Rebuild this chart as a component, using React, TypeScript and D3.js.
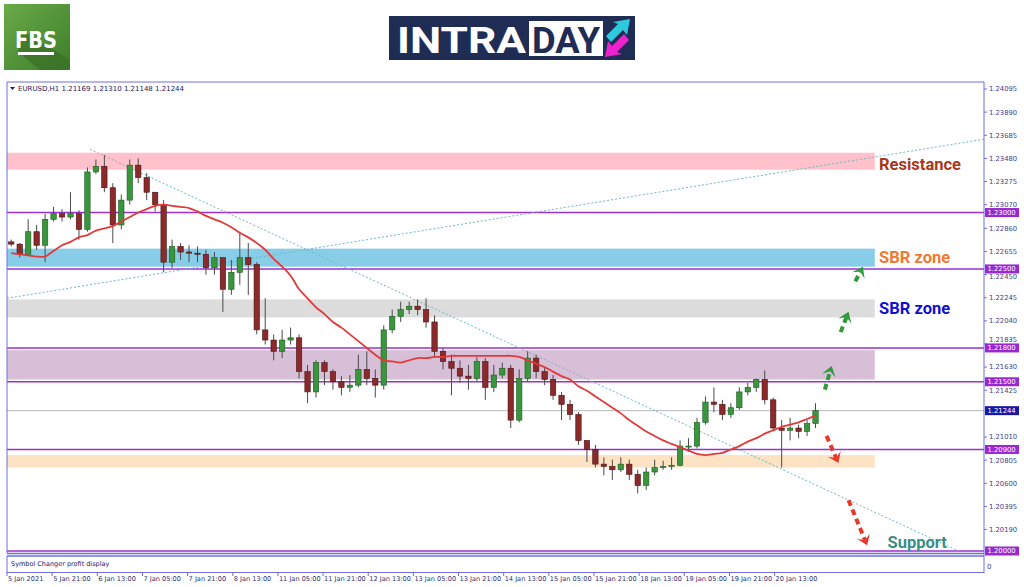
import React from "react";
import * as d3 from "d3";

// ---- DATA (EURUSD H1, sampled every 3 hours) ----
const firstOpen = 1.2274;
const closes = [
  1.2272, 1.2263, 1.2283, 1.2271, 1.2294, 1.2299, 1.2296, 1.2299, 1.2285, 1.2336,
  1.2341, 1.2322, 1.2289, 1.2311, 1.2342, 1.2331, 1.2318, 1.2307, 1.2256, 1.227,
  1.2265, 1.2264, 1.2263, 1.2251, 1.226, 1.2232, 1.2247, 1.226, 1.2254, 1.2196,
  1.2187, 1.2177, 1.2187, 1.2189, 1.2159, 1.2141, 1.2167, 1.2159, 1.215, 1.2145,
  1.2147, 1.2161, 1.2153, 1.2147, 1.2196, 1.2208, 1.2214, 1.2217, 1.2214, 1.2203,
  1.2177, 1.2168, 1.2162, 1.2155, 1.2153, 1.2168, 1.2145, 1.2156, 1.2162, 1.2116,
  1.2153, 1.2171, 1.2159, 1.2152, 1.2138, 1.213, 1.2121, 1.2098, 1.209, 1.2077,
  1.2075, 1.2072, 1.2077, 1.2068, 1.2058, 1.207, 1.2074, 1.2075, 1.2076, 1.2093,
  1.2093, 1.2114, 1.2132, 1.213, 1.2121, 1.2127, 1.2141, 1.2145, 1.2152, 1.2134,
  1.2109, 1.2107, 1.2109, 1.2106, 1.2113, 1.21244,
];
const highs = [
  1.2276, 1.2273, 1.2294, 1.2289, 1.2299, 1.2305, 1.2303, 1.2318, 1.2302, 1.234,
  1.2347, 1.2351, 1.2326, 1.2316, 1.2347, 1.2348, 1.2335, 1.2318, 1.2311, 1.2276,
  1.2273, 1.2271, 1.227, 1.2267, 1.2265, 1.226, 1.2258, 1.2283, 1.2273, 1.2256,
  1.2224, 1.2192, 1.2196, 1.2198, 1.2192, 1.2165, 1.2169, 1.2169, 1.2161, 1.2155,
  1.2156, 1.2174, 1.2177, 1.2161, 1.22, 1.2214, 1.2221, 1.2221, 1.2223, 1.2224,
  1.2209, 1.218, 1.2174, 1.2169, 1.2165, 1.2172, 1.2171, 1.2165, 1.2167, 1.2165,
  1.2161, 1.2177, 1.2174, 1.2162, 1.2156, 1.2141, 1.2134, 1.2123, 1.2098, 1.2094,
  1.2083, 1.2081, 1.2083, 1.2081, 1.2072, 1.2074, 1.2081, 1.208, 1.2083, 1.2098,
  1.21, 1.2118, 1.2137, 1.2145, 1.2134, 1.2131, 1.2145, 1.2149, 1.2153, 1.216,
  1.2136, 1.2116, 1.2118, 1.2112, 1.2116, 1.2131,
];
const lows = [
  1.227, 1.226, 1.2262, 1.2267, 1.2256, 1.2292, 1.2292, 1.2294, 1.2276, 1.2283,
  1.2334, 1.2318, 1.2273, 1.2285, 1.2307, 1.2326, 1.2311, 1.2301, 1.2247, 1.2251,
  1.2258, 1.2256, 1.2256, 1.2245, 1.2245, 1.2212, 1.2227, 1.2236, 1.2227, 1.2192,
  1.2183, 1.2169, 1.2171, 1.2183, 1.2153, 1.2131, 1.2136, 1.2147, 1.2143, 1.2138,
  1.2141, 1.2145, 1.2147, 1.2136, 1.2143, 1.2193, 1.2203, 1.221, 1.2209, 1.2198,
  1.2172, 1.2161, 1.2138, 1.2149, 1.2143, 1.215, 1.2134, 1.2141, 1.2153, 1.2109,
  1.2114, 1.215, 1.2153, 1.2147, 1.2134, 1.2116, 1.2116, 1.2094, 1.2079, 1.2074,
  1.2067, 1.2063, 1.207, 1.2063, 1.2051, 1.2054, 1.2067, 1.2072, 1.2072, 1.2075,
  1.2088, 1.2091, 1.2112, 1.2123, 1.2116, 1.2118, 1.2125, 1.2138, 1.2141, 1.213,
  1.2106, 1.2074, 1.2098, 1.21, 1.2102, 1.2109,
];
const maValues = [
  1.2264, 1.2263, 1.2262, 1.2261, 1.2261, 1.2266, 1.2271, 1.2274, 1.2278, 1.228,
  1.2284, 1.2286, 1.2288, 1.2292, 1.2296, 1.23, 1.2303, 1.2306, 1.2307, 1.2306,
  1.2305, 1.2304, 1.2301, 1.2297, 1.2294, 1.2291, 1.2287, 1.2282, 1.2278, 1.2273,
  1.2267, 1.2259, 1.2252, 1.2244, 1.2232, 1.2224, 1.2216, 1.221, 1.2203, 1.2198,
  1.2192, 1.2186, 1.218, 1.2174, 1.2169, 1.2168, 1.2167, 1.2169, 1.2171, 1.2171,
  1.2172, 1.2172, 1.2173, 1.2173, 1.2173, 1.2173, 1.2173, 1.2173, 1.2173, 1.2173,
  1.2172, 1.2169, 1.2166, 1.2163, 1.2159, 1.2155, 1.2152, 1.2146, 1.2142, 1.2137,
  1.2132, 1.2127, 1.2122, 1.2116, 1.2111, 1.2106, 1.2102, 1.2098, 1.2095, 1.2092,
  1.2089, 1.2086, 1.2085, 1.2086, 1.2087, 1.209, 1.2093, 1.2097, 1.21, 1.2104,
  1.2107, 1.211, 1.2112, 1.2114, 1.2117, 1.212,
];

const xLabels = [
  "5 Jan 2021", "5 Jan 21:00", "6 Jan 13:00", "7 Jan 05:00", "7 Jan 21:00", "8 Jan 13:00",
  "11 Jan 05:00", "11 Jan 21:00", "12 Jan 13:00", "13 Jan 05:00", "13 Jan 21:00", "14 Jan 13:00",
  "15 Jan 05:00", "15 Jan 21:00", "18 Jan 13:00", "19 Jan 05:00", "19 Jan 21:00", "20 Jan 13:00",
];
const hoursPerLabel = 16;
const hoursPerCandle = 3;

const yTickLabels = [
  "1.24095", "1.23890", "1.23685", "1.23480", "1.23275", "1.23070", "1.22860", "1.22655",
  "1.22450", "1.22245", "1.22040", "1.21835", "1.21630", "1.21425", "1.21010",
  "1.20805", "1.20600", "1.20395", "1.20190",
];

const levelPrices = [1.23, 1.225, 1.218, 1.215, 1.209, 1.2];
const levelLabels = ["1.23000", "1.22500", "1.21800", "1.21500", "1.20900", "1.20000"];
const currentPrice = 1.21244;
const currentLabel = "1.21244";

const zoneNames = ["resistance", "sbr1", "sbr2", "range", "support"];
const zoneHigh = [1.2353, 1.2268, 1.2223, 1.2178, 1.2085];
const zoneLow = [1.2338, 1.2252, 1.2207, 1.2152, 1.2074];
const zoneEndIndex = 102;

const trendFrom = [
  [9.3, 1.2356],
  [-0.5, 1.2224],
];
const trendTo = [
  [111.9, 1.2],
  [114.9, 1.2365],
];

const arrowKinds = ["up", "up", "up", "down", "down"];
const arrowFrom = [
  [96.1, 1.2143],
  [97.97, 1.2194],
  [99.7, 1.2239],
  [96.3, 1.2102],
  [98.9, 1.2045],
];
const arrowTo = [
  [96.9, 1.2164],
  [98.9, 1.2212],
  [100.6, 1.2252],
  [97.7, 1.2078],
  [101.1, 1.2005],
];

const noteTexts = ["Resistance", "SBR zone", "SBR zone", "Support"];
const noteIndex = [102.5, 102.5, 102.5, 103.5];
const notePrice = [1.2343, 1.226, 1.2215, 1.2008];

const headerText = "EURUSD,H1  1.21169 1.21310 1.21148 1.21244";

// ---- STYLE ----
const zoneColors: Record<string, string> = {
  resistance: "#ffc2cc",
  sbr1: "#87cde8",
  sbr2: "#dcdcdc",
  range: "#d8bfd8",
  support: "#fde2c4",
};
const noteColors = ["#a8381c", "#f07a30", "#1010d0", "#3a8c86"];
const frameColor = "#6e6ee0";
const levelColor = "#9a30d0";

export default function App() {
  const W = 1024;
  const H = 587;
  const left = 7;
  const right = 984;
  const top = 82;
  const bottom = 553;

  const x = d3.scaleLinear().domain([-0.5, 114.9]).range([left, right]);
  const y = d3.scaleLinear().domain([1.2, 1.24095]).range([551, 89]);

  const candles = closes.map((c, i) => {
    const o = i === 0 ? firstOpen : closes[i - 1];
    const h = Math.max(highs[i], o, c);
    const l = Math.min(lows[i], o, c);
    return { i, o, c, h, l };
  });

  const maLine = d3
    .line<number>()
    .x((_, i) => x(i))
    .y((d) => y(d))
    .curve(d3.curveCatmullRom.alpha(0.5));

  const bodyW = 5.4;

  const tickY = (s: string) => {
    const v = y(parseFloat(s));
    // nudge labels that sit under a highlighted level box
    for (const p of levelPrices) {
      const d = v - y(p);
      if (Math.abs(d) < 7) return y(p) + (d >= 0 ? 8 : -8);
    }
    return v;
  };

  const arrows = arrowKinds.map((k, j) => {
    const x1 = x(arrowFrom[j][0]);
    const y1 = y(arrowFrom[j][1]);
    const x2 = x(arrowTo[j][0]);
    const y2 = y(arrowTo[j][1]);
    const ang = Math.atan2(y2 - y1, x2 - x1);
    const headLen = 10;
    const headW = 7;
    const bx = x2 - headLen * Math.cos(ang);
    const by = y2 - headLen * Math.sin(ang);
    const nx = -Math.sin(ang);
    const ny = Math.cos(ang);
    const notchX = x2 - headLen * 0.55 * Math.cos(ang);
    const notchY = y2 - headLen * 0.55 * Math.sin(ang);
    const head = [
      [x2, y2],
      [bx + nx * headW, by + ny * headW],
      [notchX, notchY],
      [bx - nx * headW, by - ny * headW],
    ];
    const color = k === "up" ? "#2f9a3a" : "#e53a2a";
    return { x1, y1, sx: notchX, sy: notchY, head, color };
  });

  return (
    <svg
      width={W}
      height={H}
      style={{ position: "absolute", left: 0, top: 0, background: "#fff" }}
      fontFamily="'DejaVu Sans', Verdana, sans-serif"
    >
      <rect x={0} y={0} width={W} height={H} fill="#fff" />

      <defs>
        <linearGradient id="fbsg" x1="0" y1="0" x2="1" y2="1">
          <stop offset="0" stopColor="#6aaa48" />
          <stop offset="1" stopColor="#3d7d2a" />
        </linearGradient>
        <clipPath id="plotclip">
          <rect x={left} y={top} width={right - left} height={bottom - top} />
        </clipPath>
      </defs>

      {/* FBS logo */}
      <rect x={4} y={4} width={66} height={66} fill="url(#fbsg)" />
      <polygon points="22,30 70,60 70,70 40,70 18,52" fill="#3a6f26" opacity={0.7} />
      <text
        x={15}
        y={48}
        fill="#fff"
        fontFamily="'Liberation Sans Narrow', 'DejaVu Sans Condensed', Roboto, sans-serif"
        fontWeight={700}
        fontSize={23}
        textLength={42}
        lengthAdjust="spacingAndGlyphs"
      >
        FBS
      </text>
      <rect x={18} y={52} width={36} height={3} fill="#fff" />

      {/* INTRADAY logo */}
      <rect x={389} y={16} width={246} height={44} fill="#1f2d55" />
      <text
        x={397}
        y={53}
        fill="#fff"
        fontFamily="'Liberation Sans Narrow', Roboto, sans-serif"
        fontWeight={700}
        fontSize={37}
        textLength={129}
        lengthAdjust="spacingAndGlyphs"
      >
        INTRA
      </text>
      <rect x={529} y={21} width={74} height={35} fill="#fff" />
      <text
        x={532}
        y={53}
        fill="#1f2d55"
        fontFamily="'Liberation Sans Narrow', Roboto, sans-serif"
        fontWeight={700}
        fontSize={37}
        textLength={68}
        lengthAdjust="spacingAndGlyphs"
      >
        DAY
      </text>
      <polygon points="606,36 618,24 613,22 630,19 627,35 623,30 611,42" fill="#2ec9dc" />
      <polygon points="629,40 617,52 622,54 605,57 608,41 612,46 624,34" fill="#ee22cc" />

      {/* plot */}
      <g clipPath="url(#plotclip)">
        {zoneNames.map((z, j) => (
          <rect
            key={z}
            x={left}
            y={y(zoneHigh[j])}
            width={x(zoneEndIndex) - left}
            height={y(zoneLow[j]) - y(zoneHigh[j])}
            fill={zoneColors[z]}
          />
        ))}
        <line x1={left} x2={right} y1={y(currentPrice)} y2={y(currentPrice)} stroke="#b8b8b8" strokeWidth={1} />
        {levelPrices.map((p) => (
          <line key={p} x1={left} x2={right} y1={y(p)} y2={y(p)} stroke={levelColor} strokeWidth={1.5} />
        ))}
        {trendFrom.map((f, j) => (
          <line
            key={j}
            x1={x(f[0])}
            y1={y(f[1])}
            x2={x(trendTo[j][0])}
            y2={y(trendTo[j][1])}
            stroke="#6fb7c2"
            strokeWidth={1}
            strokeDasharray="2,2"
          />
        ))}
        {candles.map((d) => {
          const bull = d.c >= d.o;
          const yt = y(Math.max(d.o, d.c));
          const yb = y(Math.min(d.o, d.c));
          return (
            <g key={d.i}>
              <line x1={x(d.i)} x2={x(d.i)} y1={y(d.h)} y2={y(d.l)} stroke="#4a4a4a" strokeWidth={1} />
              <rect
                x={x(d.i) - bodyW / 2}
                y={yt}
                width={bodyW}
                height={Math.max(1, yb - yt)}
                fill={bull ? "#3a963c" : "#8a2a2a"}
                stroke={bull ? "#1f5a22" : "#4d1414"}
                strokeWidth={0.6}
              />
            </g>
          );
        })}
        <path d={maLine(maValues) || ""} fill="none" stroke="#e23a3a" strokeWidth={1.8} />

        {arrows.map((a, j) => (
          <g key={j}>
            <line
              x1={a.x1}
              y1={a.y1}
              x2={a.sx}
              y2={a.sy}
              stroke={a.color}
              strokeWidth={4}
              strokeDasharray="6,4"
            />
            <polygon points={a.head.map((p) => p.join(",")).join(" ")} fill={a.color} />
          </g>
        ))}

        {noteTexts.map((t, j) => (
          <text
            key={j}
            x={x(noteIndex[j])}
            y={y(notePrice[j])}
            dy="0.35em"
            fill={noteColors[j]}
            fontFamily="Roboto, 'Open Sans', sans-serif"
            fontWeight={700}
            fontSize={16.5}
          >
            {t}
          </text>
        ))}
      </g>

      {/* header */}
      <polygon points="10,87 15,87 12.5,90" fill="#202060" />
      <text x={18} y={91} fontSize={7} fill="#202060">
        {headerText}
      </text>

      {/* frame */}
      <line x1={left} x2={left} y1={top} y2={bottom} stroke={frameColor} />
      <line x1={left} x2={right} y1={top} y2={top} stroke={frameColor} />
      <line x1={right} x2={right} y1={top} y2={573} stroke={frameColor} />
      <line x1={left} x2={right} y1={bottom + 0.5} y2={bottom + 0.5} stroke={frameColor} strokeWidth={1.5} />
      <line x1={left} x2={right} y1={556} y2={556} stroke={frameColor} strokeWidth={1.5} />
      <line x1={left} x2={left} y1={556} y2={573} stroke={frameColor} />
      <line x1={left} x2={right} y1={572.5} y2={572.5} stroke={frameColor} />
      <text x={11} y={566} fontSize={6.5} fill="#202070">
        Symbol Changer profit display
      </text>
      <text x={987} y={569} fontSize={7} fill="#404080">
        0
      </text>

      {/* right axis */}
      {yTickLabels.map((s) => (
        <g key={s}>
          <line x1={right} x2={right + 3} y1={y(parseFloat(s))} y2={y(parseFloat(s))} stroke={frameColor} />
          <text x={989} y={tickY(s)} dy="0.35em" fontSize={6.8} fill="#44448a">
            {s}
          </text>
        </g>
      ))}
      {levelPrices.map((p, j) => (
        <g key={p}>
          <rect x={right + 1} y={y(p) - 4.5} width={34} height={9} fill="#9a28d0" />
          <text x={987.5} y={y(p)} dy="0.35em" fontSize={6.8} fill="#fff">
            {levelLabels[j]}
          </text>
        </g>
      ))}
      <rect x={right + 1} y={y(currentPrice) - 4.5} width={34} height={9} fill="#1818a8" />
      <text x={987.5} y={y(currentPrice)} dy="0.35em" fontSize={6.8} fill="#fff">
        {currentLabel}
      </text>

      {/* bottom axis */}
      {xLabels.map((s, k) => {
        const xi = x((k * hoursPerLabel - 1.5) / hoursPerCandle);
        return (
          <g key={s}>
            <line x1={xi} x2={xi} y1={572} y2={576} stroke={frameColor} />
            <text x={xi + 1} y={581} fontSize={6.6} fill="#303070">
              {s}
            </text>
          </g>
        );
      })}
    </svg>
  );
}
